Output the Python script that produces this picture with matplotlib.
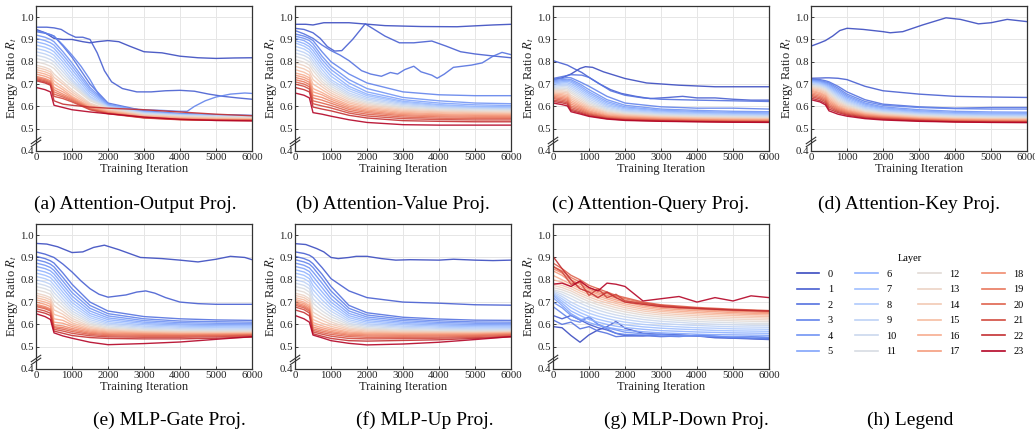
import matplotlib
matplotlib.use("Agg")
import matplotlib.pyplot as plt
from matplotlib.lines import Line2D

plt.rcParams["font.family"] = ["Liberation Serif", "DejaVu Serif"]
plt.rcParams["mathtext.fontset"] = "stix"

# --- Data: energy ratio per layer ---
# common x grid for the smooth curves
x_grid = [0, 250, 400, 500, 750, 1000, 1500, 2000, 3000, 4000, 5000, 6000]
x_grid_down = [0, 250, 500, 750, 1000, 1250, 1500, 1750, 2000, 2500, 3000, 3500, 4000, 4500, 5000, 5500, 6000]
x_ticks = [0, 1000, 2000, 3000, 4000, 5000, 6000]
y_ticks = [0.4, 0.5, 0.6, 0.7, 0.8, 0.9, 1.0]
layers = list(range(24))

# (a) Attention-Output Proj.
att_out = [
    None, None,
    [0.935, 0.928, 0.922, 0.915, 0.87, 0.82, 0.70, 0.615, 0.580, 0.568, 0.563, 0.560],
    None,
    [0.92, 0.91, 0.90, 0.89, 0.845, 0.795, 0.685, 0.610, 0.578, 0.566, 0.561, 0.558],
    [0.905, 0.895, 0.885, 0.875, 0.83, 0.78, 0.675, 0.607, 0.576, 0.565, 0.560, 0.557],
    [0.89, 0.88, 0.87, 0.86, 0.815, 0.765, 0.665, 0.605, 0.575, 0.564, 0.559, 0.556],
    [0.875, 0.865, 0.855, 0.845, 0.80, 0.75, 0.655, 0.602, 0.573, 0.563, 0.558, 0.555],
    [0.86, 0.85, 0.84, 0.83, 0.785, 0.735, 0.645, 0.600, 0.572, 0.562, 0.557, 0.554],
    [0.845, 0.835, 0.825, 0.815, 0.77, 0.72, 0.64, 0.598, 0.570, 0.560, 0.556, 0.553],
    [0.83, 0.82, 0.81, 0.80, 0.755, 0.71, 0.635, 0.596, 0.568, 0.559, 0.555, 0.552],
    [0.815, 0.805, 0.795, 0.785, 0.74, 0.70, 0.63, 0.594, 0.566, 0.557, 0.553, 0.551],
    [0.80, 0.79, 0.78, 0.77, 0.725, 0.69, 0.625, 0.591, 0.564, 0.555, 0.551, 0.549],
    [0.785, 0.775, 0.765, 0.745, 0.71, 0.675, 0.615, 0.587, 0.561, 0.553, 0.549, 0.547],
    [0.775, 0.765, 0.755, 0.73, 0.70, 0.665, 0.61, 0.584, 0.559, 0.551, 0.547, 0.545],
    [0.765, 0.755, 0.745, 0.715, 0.685, 0.655, 0.605, 0.581, 0.557, 0.549, 0.545, 0.543],
    [0.755, 0.745, 0.735, 0.70, 0.675, 0.645, 0.60, 0.578, 0.555, 0.547, 0.543, 0.541],
    [0.745, 0.735, 0.725, 0.685, 0.665, 0.64, 0.595, 0.575, 0.553, 0.545, 0.541, 0.540],
    [0.735, 0.725, 0.715, 0.675, 0.655, 0.635, 0.592, 0.573, 0.551, 0.543, 0.540, 0.539],
    [0.73, 0.72, 0.71, 0.665, 0.648, 0.63, 0.59, 0.571, 0.550, 0.542, 0.539, 0.538],
    [0.725, 0.715, 0.705, 0.655, 0.642, 0.625, 0.587, 0.569, 0.549, 0.541, 0.538, 0.537],
    [0.72, 0.71, 0.70, 0.645, 0.635, 0.62, 0.585, 0.567, 0.548, 0.540, 0.537, 0.536],
    [0.715, 0.705, 0.695, 0.625, 0.61, 0.605, 0.597, 0.592, 0.585, 0.575, 0.565, 0.558],
    [0.685, 0.675, 0.665, 0.605, 0.595, 0.585, 0.575, 0.567, 0.552, 0.542, 0.537, 0.535],
]
att_out_special = {
    0: ([0, 250, 500, 750, 1000, 1300, 1500, 1700, 2000, 2300, 2600, 3000, 3500, 4000, 4500, 5000, 5500, 6000],
        [0.945, 0.93, 0.905, 0.9, 0.9, 0.89, 0.885, 0.89, 0.895, 0.89, 0.87, 0.845, 0.84, 0.825, 0.818, 0.815, 0.817, 0.818]),
    1: ([0, 300, 500, 700, 900, 1100, 1300, 1500, 1700, 1900, 2100, 2400, 2800, 3200, 3600, 4000, 4400, 4800, 5200, 5600, 6000],
        [0.955, 0.955, 0.952, 0.945, 0.925, 0.91, 0.91, 0.9, 0.84, 0.76, 0.71, 0.68, 0.665, 0.665, 0.67, 0.672, 0.668, 0.655, 0.645, 0.638, 0.632]),
    3: ([0, 250, 500, 750, 1000, 1250, 1500, 1750, 2000, 2500, 3000, 3500, 4000, 4200, 4400, 4700, 5000, 5400, 5800, 6000],
        [0.94, 0.93, 0.915, 0.875, 0.83, 0.78, 0.72, 0.65, 0.605, 0.59, 0.585, 0.582, 0.578, 0.578, 0.6, 0.625, 0.642, 0.655, 0.66, 0.658]),
}

# (b) Attention-Value Proj.
att_val = [
    None, None, None,
    [0.925, 0.915, 0.905, 0.895, 0.845, 0.80, 0.745, 0.705, 0.665, 0.652, 0.648, 0.648],
    [0.915, 0.905, 0.895, 0.88, 0.825, 0.78, 0.72, 0.68, 0.64, 0.625, 0.615, 0.612],
    [0.905, 0.895, 0.88, 0.865, 0.81, 0.765, 0.705, 0.665, 0.63, 0.615, 0.607, 0.604],
    [0.895, 0.882, 0.868, 0.85, 0.795, 0.75, 0.69, 0.655, 0.623, 0.608, 0.600, 0.598],
    [0.885, 0.87, 0.855, 0.835, 0.78, 0.735, 0.68, 0.648, 0.618, 0.604, 0.597, 0.595],
    [0.87, 0.857, 0.842, 0.82, 0.765, 0.72, 0.67, 0.64, 0.613, 0.600, 0.594, 0.592],
    [0.855, 0.842, 0.828, 0.805, 0.75, 0.71, 0.66, 0.633, 0.608, 0.596, 0.591, 0.589],
    [0.84, 0.828, 0.815, 0.79, 0.738, 0.70, 0.652, 0.627, 0.603, 0.592, 0.588, 0.586],
    [0.825, 0.813, 0.80, 0.775, 0.725, 0.69, 0.645, 0.62, 0.598, 0.588, 0.584, 0.583],
    [0.81, 0.798, 0.785, 0.76, 0.712, 0.68, 0.637, 0.614, 0.593, 0.584, 0.58, 0.579],
    [0.795, 0.783, 0.77, 0.74, 0.70, 0.67, 0.63, 0.608, 0.588, 0.58, 0.576, 0.575],
    [0.78, 0.768, 0.755, 0.72, 0.688, 0.66, 0.622, 0.602, 0.583, 0.576, 0.572, 0.571],
    [0.765, 0.753, 0.74, 0.70, 0.675, 0.65, 0.615, 0.596, 0.578, 0.572, 0.568, 0.567],
    [0.75, 0.74, 0.728, 0.68, 0.662, 0.64, 0.607, 0.590, 0.573, 0.567, 0.564, 0.563],
    [0.74, 0.73, 0.718, 0.665, 0.652, 0.632, 0.60, 0.584, 0.568, 0.563, 0.560, 0.559],
    [0.73, 0.72, 0.708, 0.65, 0.64, 0.623, 0.593, 0.578, 0.563, 0.558, 0.556, 0.555],
    [0.72, 0.71, 0.698, 0.638, 0.628, 0.614, 0.586, 0.572, 0.558, 0.553, 0.551, 0.55],
    [0.71, 0.70, 0.688, 0.625, 0.615, 0.604, 0.578, 0.565, 0.552, 0.547, 0.545, 0.545],
    [0.70, 0.69, 0.678, 0.612, 0.602, 0.593, 0.570, 0.557, 0.545, 0.541, 0.539, 0.539],
    [0.685, 0.675, 0.665, 0.597, 0.588, 0.58, 0.56, 0.548, 0.536, 0.533, 0.531, 0.531],
    [0.66, 0.65, 0.638, 0.572, 0.565, 0.556, 0.54, 0.528, 0.518, 0.516, 0.516, 0.516],
]
att_val_special = {
    0: ([0, 300, 500, 800, 1500, 2500, 3500, 4500, 5500, 6000],
        [0.968, 0.968, 0.965, 0.975, 0.975, 0.962, 0.958, 0.957, 0.965, 0.968]),
    1: ([0, 250, 500, 700, 900, 1100, 1300, 1600, 1950, 2200, 2500, 2900, 3300, 3800, 4200, 4600, 5000, 5500, 6000],
        [0.95, 0.945, 0.93, 0.905, 0.868, 0.848, 0.85, 0.9, 0.97, 0.945, 0.915, 0.885, 0.885, 0.893, 0.87, 0.845, 0.835, 0.826, 0.818]),
    2: ([0, 250, 500, 750, 1000, 1250, 1500, 1850, 2100, 2400, 2650, 2850, 3050, 3300, 3500, 3800, 3950, 4150, 4400, 4900, 5200, 5500, 5750, 6000],
        [0.94, 0.925, 0.905, 0.875, 0.85, 0.83, 0.805, 0.76, 0.745, 0.735, 0.752, 0.745, 0.765, 0.78, 0.755, 0.74, 0.726, 0.745, 0.775, 0.785, 0.795, 0.825, 0.842, 0.832]),
}

# (c) Attention-Query Proj.
att_query = [
    None, None, None,
    [0.72, 0.725, 0.73, 0.728, 0.71, 0.69, 0.645, 0.615, 0.598, 0.592, 0.592, 0.588],
    [0.715, 0.72, 0.722, 0.72, 0.70, 0.675, 0.63, 0.605, 0.588, 0.582, 0.578, 0.576],
    [0.71, 0.715, 0.717, 0.714, 0.692, 0.665, 0.622, 0.598, 0.583, 0.577, 0.573, 0.571],
    [0.705, 0.71, 0.712, 0.708, 0.684, 0.657, 0.615, 0.593, 0.579, 0.573, 0.569, 0.567],
    [0.70, 0.705, 0.706, 0.70, 0.676, 0.649, 0.608, 0.588, 0.575, 0.569, 0.566, 0.564],
    [0.695, 0.70, 0.70, 0.692, 0.668, 0.641, 0.602, 0.583, 0.571, 0.566, 0.563, 0.561],
    [0.69, 0.694, 0.694, 0.684, 0.66, 0.633, 0.596, 0.579, 0.567, 0.562, 0.56, 0.558],
    [0.685, 0.688, 0.687, 0.676, 0.652, 0.625, 0.59, 0.575, 0.564, 0.559, 0.557, 0.555],
    [0.68, 0.682, 0.68, 0.668, 0.644, 0.618, 0.585, 0.571, 0.561, 0.556, 0.554, 0.552],
    [0.675, 0.676, 0.673, 0.66, 0.636, 0.611, 0.58, 0.567, 0.558, 0.553, 0.551, 0.549],
    [0.67, 0.67, 0.666, 0.65, 0.628, 0.604, 0.575, 0.564, 0.555, 0.55, 0.548, 0.546],
    [0.665, 0.664, 0.66, 0.642, 0.62, 0.598, 0.571, 0.561, 0.552, 0.548, 0.546, 0.544],
    [0.66, 0.658, 0.653, 0.634, 0.613, 0.592, 0.567, 0.558, 0.55, 0.546, 0.544, 0.542],
    [0.655, 0.652, 0.646, 0.626, 0.606, 0.586, 0.563, 0.555, 0.547, 0.543, 0.541, 0.54],
    [0.65, 0.646, 0.64, 0.618, 0.60, 0.58, 0.559, 0.552, 0.545, 0.541, 0.539, 0.538],
    [0.645, 0.64, 0.634, 0.61, 0.594, 0.575, 0.556, 0.549, 0.542, 0.539, 0.537, 0.536],
    [0.64, 0.634, 0.628, 0.602, 0.588, 0.57, 0.553, 0.546, 0.54, 0.537, 0.535, 0.534],
    [0.635, 0.628, 0.622, 0.595, 0.582, 0.566, 0.55, 0.543, 0.538, 0.535, 0.533, 0.532],
    [0.628, 0.622, 0.616, 0.588, 0.576, 0.562, 0.547, 0.541, 0.536, 0.533, 0.531, 0.531],
    [0.622, 0.616, 0.61, 0.582, 0.571, 0.558, 0.545, 0.539, 0.534, 0.532, 0.53, 0.53],
    [0.615, 0.608, 0.602, 0.576, 0.566, 0.555, 0.543, 0.537, 0.533, 0.531, 0.529, 0.528],
]
att_query_special = {
    0: ([0, 250, 500, 750, 900, 1100, 1400, 1700, 2000, 2600, 3500, 4500, 5500, 6000],
        [0.72, 0.728, 0.745, 0.77, 0.778, 0.775, 0.755, 0.74, 0.725, 0.705, 0.695, 0.688, 0.688, 0.688]),
    1: ([0, 200, 400, 600, 800, 1000, 1300, 1600, 1900, 2300, 2700, 3200, 3600, 4000, 4500, 5000, 5500, 6000],
        [0.805, 0.795, 0.785, 0.768, 0.752, 0.73, 0.7, 0.675, 0.658, 0.645, 0.635, 0.64, 0.645, 0.638, 0.638, 0.632, 0.628, 0.628]),
    2: ([0, 300, 500, 800, 1000, 1300, 1600, 2000, 2500, 3000, 4000, 5000, 6000],
        [0.725, 0.735, 0.742, 0.74, 0.73, 0.7, 0.67, 0.65, 0.638, 0.632, 0.628, 0.625, 0.622]),
}

# (d) Attention-Key Proj.
att_key = [
    None,
    [0.726, 0.727, 0.728, 0.728, 0.726, 0.72, 0.69, 0.67, 0.655, 0.645, 0.642, 0.64],
    [0.722, 0.72, 0.715, 0.71, 0.69, 0.665, 0.63, 0.61, 0.598, 0.592, 0.595, 0.595],
    [0.72, 0.716, 0.71, 0.705, 0.682, 0.655, 0.622, 0.605, 0.595, 0.59, 0.588, 0.588],
    [0.718, 0.713, 0.706, 0.70, 0.675, 0.648, 0.615, 0.598, 0.585, 0.578, 0.575, 0.574],
    [0.715, 0.71, 0.702, 0.695, 0.668, 0.642, 0.61, 0.593, 0.58, 0.573, 0.57, 0.569],
    [0.712, 0.706, 0.698, 0.69, 0.662, 0.636, 0.605, 0.589, 0.576, 0.569, 0.566, 0.565],
    [0.709, 0.703, 0.694, 0.685, 0.656, 0.63, 0.60, 0.585, 0.572, 0.566, 0.563, 0.562],
    [0.706, 0.699, 0.69, 0.68, 0.65, 0.625, 0.595, 0.581, 0.569, 0.563, 0.56, 0.559],
    [0.703, 0.695, 0.686, 0.675, 0.644, 0.62, 0.591, 0.578, 0.566, 0.56, 0.557, 0.556],
    [0.70, 0.691, 0.682, 0.67, 0.638, 0.615, 0.587, 0.575, 0.563, 0.557, 0.554, 0.553],
    [0.696, 0.687, 0.677, 0.664, 0.632, 0.61, 0.583, 0.572, 0.56, 0.554, 0.551, 0.55],
    [0.692, 0.683, 0.672, 0.658, 0.626, 0.605, 0.579, 0.569, 0.557, 0.551, 0.548, 0.547],
    [0.688, 0.678, 0.667, 0.652, 0.62, 0.60, 0.575, 0.566, 0.554, 0.548, 0.546, 0.545],
    [0.683, 0.673, 0.662, 0.645, 0.614, 0.595, 0.572, 0.563, 0.552, 0.546, 0.544, 0.543],
    [0.678, 0.668, 0.656, 0.638, 0.608, 0.59, 0.569, 0.56, 0.549, 0.544, 0.542, 0.541],
    [0.673, 0.662, 0.65, 0.631, 0.602, 0.585, 0.566, 0.557, 0.547, 0.542, 0.54, 0.539],
    [0.668, 0.657, 0.645, 0.624, 0.597, 0.581, 0.563, 0.555, 0.545, 0.54, 0.538, 0.537],
    [0.662, 0.651, 0.639, 0.617, 0.592, 0.577, 0.56, 0.552, 0.543, 0.538, 0.536, 0.535],
    [0.656, 0.645, 0.633, 0.61, 0.587, 0.573, 0.557, 0.55, 0.541, 0.536, 0.534, 0.533],
    [0.65, 0.639, 0.627, 0.603, 0.582, 0.569, 0.554, 0.547, 0.539, 0.534, 0.532, 0.531],
    [0.644, 0.633, 0.621, 0.596, 0.577, 0.565, 0.551, 0.545, 0.537, 0.532, 0.53, 0.53],
    [0.637, 0.626, 0.614, 0.588, 0.572, 0.561, 0.548, 0.542, 0.535, 0.531, 0.529, 0.529],
    [0.63, 0.62, 0.607, 0.58, 0.565, 0.556, 0.545, 0.539, 0.533, 0.53, 0.528, 0.527],
]
att_key_special = {
    0: ([0, 250, 400, 600, 800, 1000, 1450, 2000, 2200, 2550, 3100, 3750, 4150, 4650, 5000, 5450, 6000],
        [0.87, 0.885, 0.895, 0.915, 0.94, 0.95, 0.945, 0.935, 0.93, 0.935, 0.965, 0.997, 0.99, 0.97, 0.975, 0.99, 0.98]),
}

# (e) MLP-Gate Proj.
mlp_gate = [
    None, None,
    [0.905, 0.895, 0.885, 0.875, 0.83, 0.78, 0.70, 0.66, 0.635, 0.625, 0.62, 0.618],
    [0.89, 0.88, 0.87, 0.858, 0.81, 0.76, 0.685, 0.648, 0.625, 0.615, 0.612, 0.61],
    [0.875, 0.865, 0.855, 0.842, 0.793, 0.743, 0.672, 0.638, 0.617, 0.608, 0.605, 0.603],
    [0.86, 0.85, 0.84, 0.826, 0.776, 0.727, 0.66, 0.629, 0.61, 0.602, 0.599, 0.598],
    [0.845, 0.835, 0.825, 0.81, 0.76, 0.712, 0.649, 0.621, 0.604, 0.597, 0.594, 0.593],
    [0.83, 0.82, 0.81, 0.793, 0.744, 0.698, 0.639, 0.613, 0.598, 0.592, 0.589, 0.588],
    [0.815, 0.805, 0.795, 0.776, 0.729, 0.685, 0.63, 0.606, 0.592, 0.587, 0.585, 0.584],
    [0.80, 0.79, 0.78, 0.76, 0.714, 0.672, 0.621, 0.60, 0.587, 0.582, 0.58, 0.58],
    [0.785, 0.775, 0.765, 0.742, 0.70, 0.66, 0.613, 0.594, 0.582, 0.578, 0.576, 0.576],
    [0.77, 0.76, 0.75, 0.725, 0.686, 0.649, 0.606, 0.588, 0.578, 0.574, 0.572, 0.572],
    [0.755, 0.745, 0.735, 0.705, 0.672, 0.638, 0.599, 0.583, 0.574, 0.57, 0.569, 0.569],
    [0.74, 0.73, 0.72, 0.685, 0.658, 0.627, 0.592, 0.578, 0.57, 0.567, 0.566, 0.566],
    [0.73, 0.72, 0.71, 0.665, 0.645, 0.617, 0.586, 0.574, 0.567, 0.564, 0.563, 0.563],
    [0.72, 0.71, 0.70, 0.645, 0.632, 0.607, 0.58, 0.57, 0.564, 0.561, 0.56, 0.561],
    [0.71, 0.70, 0.69, 0.625, 0.618, 0.598, 0.575, 0.566, 0.561, 0.558, 0.558, 0.559],
    [0.70, 0.69, 0.68, 0.61, 0.605, 0.59, 0.57, 0.562, 0.558, 0.556, 0.556, 0.557],
    [0.69, 0.68, 0.67, 0.598, 0.593, 0.582, 0.565, 0.558, 0.555, 0.553, 0.554, 0.555],
    [0.685, 0.675, 0.665, 0.59, 0.585, 0.575, 0.56, 0.554, 0.551, 0.55, 0.551, 0.553],
    [0.68, 0.67, 0.66, 0.585, 0.578, 0.568, 0.555, 0.549, 0.547, 0.547, 0.548, 0.551],
    [0.67, 0.66, 0.65, 0.578, 0.57, 0.56, 0.549, 0.544, 0.542, 0.542, 0.544, 0.548],
    [0.66, 0.65, 0.64, 0.57, 0.56, 0.55, 0.541, 0.537, 0.535, 0.535, 0.538, 0.543],
    [0.648, 0.635, 0.622, 0.562, 0.548, 0.538, 0.52, 0.509, 0.514, 0.521, 0.533, 0.545],
]
mlp_gate_special = {
    0: ([0, 300, 600, 800, 1000, 1300, 1600, 1900, 2300, 2900, 3500, 4000, 4500, 5000, 5400, 5800, 6000],
        [0.963, 0.96, 0.948, 0.935, 0.922, 0.925, 0.945, 0.955, 0.935, 0.9, 0.895, 0.888, 0.88, 0.892, 0.905, 0.9, 0.89]),
    1: ([0, 250, 500, 750, 1000, 1250, 1500, 1750, 2000, 2500, 2800, 3050, 3300, 3600, 4000, 4500, 5000, 6000],
        [0.925, 0.915, 0.9, 0.87, 0.835, 0.795, 0.76, 0.735, 0.722, 0.732, 0.745, 0.75, 0.74, 0.72, 0.7, 0.693, 0.69, 0.69]),
}

# (f) MLP-Up Proj.
mlp_up = [
    None,
    [0.925, 0.918, 0.91, 0.90, 0.855, 0.805, 0.75, 0.72, 0.70, 0.695, 0.688, 0.686],
    [0.905, 0.895, 0.885, 0.872, 0.825, 0.77, 0.685, 0.652, 0.632, 0.624, 0.619, 0.618],
    [0.89, 0.88, 0.87, 0.855, 0.805, 0.75, 0.672, 0.642, 0.624, 0.616, 0.611, 0.61],
    [0.875, 0.865, 0.853, 0.835, 0.785, 0.732, 0.66, 0.633, 0.617, 0.609, 0.605, 0.603],
    [0.86, 0.85, 0.837, 0.815, 0.765, 0.715, 0.649, 0.625, 0.61, 0.603, 0.599, 0.598],
    [0.845, 0.835, 0.821, 0.795, 0.746, 0.70, 0.639, 0.617, 0.604, 0.597, 0.594, 0.593],
    [0.83, 0.82, 0.805, 0.775, 0.728, 0.686, 0.63, 0.61, 0.598, 0.592, 0.589, 0.588],
    [0.815, 0.805, 0.79, 0.755, 0.71, 0.672, 0.621, 0.603, 0.592, 0.587, 0.584, 0.584],
    [0.80, 0.79, 0.775, 0.735, 0.693, 0.659, 0.613, 0.597, 0.587, 0.582, 0.58, 0.58],
    [0.785, 0.775, 0.76, 0.715, 0.677, 0.646, 0.605, 0.591, 0.582, 0.578, 0.576, 0.576],
    [0.77, 0.76, 0.745, 0.695, 0.661, 0.634, 0.598, 0.585, 0.577, 0.574, 0.572, 0.573],
    [0.755, 0.745, 0.73, 0.675, 0.646, 0.622, 0.591, 0.58, 0.573, 0.57, 0.569, 0.57],
    [0.74, 0.73, 0.715, 0.655, 0.631, 0.611, 0.584, 0.575, 0.569, 0.567, 0.566, 0.567],
    [0.73, 0.72, 0.705, 0.638, 0.618, 0.601, 0.578, 0.57, 0.565, 0.564, 0.563, 0.565],
    [0.72, 0.71, 0.695, 0.622, 0.605, 0.591, 0.572, 0.565, 0.562, 0.561, 0.561, 0.563],
    [0.712, 0.70, 0.685, 0.608, 0.594, 0.582, 0.566, 0.561, 0.558, 0.558, 0.558, 0.561],
    [0.705, 0.693, 0.678, 0.597, 0.585, 0.575, 0.561, 0.557, 0.555, 0.555, 0.556, 0.559],
    [0.698, 0.686, 0.671, 0.588, 0.577, 0.568, 0.556, 0.553, 0.551, 0.552, 0.553, 0.557],
    [0.692, 0.68, 0.665, 0.58, 0.57, 0.562, 0.551, 0.548, 0.547, 0.548, 0.55, 0.554],
    [0.686, 0.674, 0.659, 0.573, 0.563, 0.555, 0.545, 0.542, 0.542, 0.543, 0.546, 0.551],
    [0.678, 0.666, 0.651, 0.566, 0.556, 0.547, 0.537, 0.535, 0.536, 0.538, 0.541, 0.547],
    [0.665, 0.653, 0.638, 0.558, 0.547, 0.537, 0.527, 0.525, 0.528, 0.531, 0.537, 0.544],
    [0.64, 0.625, 0.61, 0.552, 0.54, 0.527, 0.515, 0.508, 0.512, 0.52, 0.532, 0.545],
]
mlp_up_special = {
    0: ([0, 300, 600, 800, 1000, 1200, 1500, 1700, 2000, 2400, 2800, 3200, 4000, 4400, 5000, 5500, 6000],
        [0.962, 0.958, 0.94, 0.925, 0.9, 0.895, 0.9, 0.905, 0.905, 0.895, 0.888, 0.89, 0.888, 0.892, 0.888, 0.886, 0.888]),
}

# (g) MLP-Down Proj. (on x_grid_down)
mlp_down = [
    [0.59, 0.585, 0.55, 0.52, 0.553, 0.575, 0.59, 0.613, 0.583, 0.56, 0.555, 0.552, 0.548, 0.545, 0.54, 0.537, 0.535],
    [0.64, 0.625, 0.64, 0.62, 0.60, 0.585, 0.575, 0.56, 0.55, 0.548, 0.556, 0.552, 0.548, 0.54, 0.538, 0.535, 0.532],
    [0.62, 0.60, 0.61, 0.58, 0.59, 0.57, 0.56, 0.545, 0.548, 0.55, 0.545, 0.548, 0.55, 0.542, 0.54, 0.545, 0.54],
    [0.68, 0.65, 0.62, 0.61, 0.635, 0.60, 0.58, 0.56, 0.555, 0.552, 0.548, 0.545, 0.552, 0.548, 0.54, 0.538, 0.535],
    [0.70, 0.675, 0.64, 0.62, 0.63, 0.60, 0.585, 0.575, 0.565, 0.558, 0.554, 0.55, 0.548, 0.546, 0.545, 0.544, 0.543],
    [0.72, 0.685, 0.648, 0.625, 0.608, 0.596, 0.587, 0.58, 0.574, 0.567, 0.562, 0.559, 0.556, 0.554, 0.553, 0.552, 0.551],
    [0.73, 0.695, 0.66, 0.64, 0.622, 0.61, 0.60, 0.592, 0.586, 0.578, 0.572, 0.569, 0.566, 0.564, 0.562, 0.561, 0.56],
    [0.735, 0.705, 0.675, 0.653, 0.636, 0.623, 0.613, 0.605, 0.598, 0.589, 0.583, 0.579, 0.576, 0.573, 0.571, 0.57, 0.569],
    [0.74, 0.715, 0.688, 0.667, 0.65, 0.637, 0.626, 0.617, 0.61, 0.60, 0.593, 0.589, 0.585, 0.583, 0.58, 0.579, 0.578],
    [0.745, 0.725, 0.70, 0.68, 0.664, 0.65, 0.639, 0.63, 0.622, 0.611, 0.604, 0.599, 0.595, 0.592, 0.589, 0.588, 0.587],
    [0.75, 0.735, 0.715, 0.695, 0.678, 0.664, 0.652, 0.642, 0.634, 0.622, 0.614, 0.609, 0.604, 0.601, 0.598, 0.596, 0.595],
    [0.755, 0.745, 0.728, 0.708, 0.69, 0.676, 0.664, 0.654, 0.645, 0.632, 0.624, 0.618, 0.613, 0.61, 0.607, 0.605, 0.604],
    [0.765, 0.755, 0.74, 0.72, 0.702, 0.688, 0.676, 0.665, 0.656, 0.642, 0.633, 0.627, 0.622, 0.619, 0.616, 0.614, 0.612],
    [0.775, 0.765, 0.75, 0.73, 0.713, 0.698, 0.686, 0.675, 0.666, 0.651, 0.642, 0.636, 0.631, 0.627, 0.624, 0.622, 0.62],
    [0.785, 0.775, 0.76, 0.74, 0.723, 0.708, 0.696, 0.685, 0.675, 0.66, 0.65, 0.644, 0.639, 0.635, 0.632, 0.63, 0.628],
    [0.80, 0.79, 0.77, 0.75, 0.733, 0.718, 0.705, 0.694, 0.684, 0.668, 0.658, 0.652, 0.647, 0.643, 0.64, 0.637, 0.635],
    [0.82, 0.80, 0.78, 0.76, 0.742, 0.727, 0.714, 0.702, 0.692, 0.676, 0.665, 0.659, 0.654, 0.65, 0.647, 0.644, 0.642],
    [0.84, 0.82, 0.79, 0.77, 0.75, 0.735, 0.722, 0.71, 0.70, 0.683, 0.672, 0.666, 0.661, 0.657, 0.653, 0.65, 0.648],
    [0.85, 0.83, 0.80, 0.78, 0.758, 0.742, 0.73, 0.718, 0.708, 0.69, 0.678, 0.672, 0.667, 0.663, 0.659, 0.656, 0.653],
    [0.86, 0.84, 0.81, 0.79, 0.765, 0.75, 0.738, 0.725, 0.715, 0.697, 0.685, 0.678, 0.672, 0.668, 0.664, 0.661, 0.658],
    [0.875, 0.85, 0.82, 0.80, 0.775, 0.76, 0.745, 0.73, 0.72, 0.70, 0.688, 0.682, 0.676, 0.672, 0.668, 0.665, 0.662],
    [0.86, 0.835, 0.78, 0.79, 0.73, 0.76, 0.72, 0.735, 0.705, 0.695, 0.685, 0.678, 0.672, 0.668, 0.664, 0.662, 0.66],
    [0.905, 0.85, 0.80, 0.76, 0.745, 0.72, 0.745, 0.72, 0.70, 0.69, 0.68, 0.675, 0.672, 0.668, 0.665, 0.662, 0.66],
    [0.78, 0.785, 0.77, 0.795, 0.765, 0.75, 0.785, 0.78, 0.77, 0.705, 0.715, 0.725, 0.70, 0.72, 0.705, 0.728, 0.72],
]

panels = [
    ("(a) Attention-Output Proj.", att_out, att_out_special, x_grid),
    ("(b) Attention-Value Proj.", att_val, att_val_special, x_grid),
    ("(c) Attention-Query Proj.", att_query, att_query_special, x_grid),
    ("(d) Attention-Key Proj.", att_key, att_key_special, x_grid),
    ("(e) MLP-Gate Proj.", mlp_gate, mlp_gate_special, x_grid),
    ("(f) MLP-Up Proj.", mlp_up, mlp_up_special, x_grid),
    ("(g) MLP-Down Proj.", mlp_down, {}, x_grid_down),
]

W, H = 1035, 432
col_left = [36, 295, 553, 811]
row_top = [6, 224]
ax_w, ax_h = 216, 145
caption_x = [135, 393, 651, 909, 169, 425, 686, 910]
caption_y = [204, 420]

cmap = plt.cm.coolwarm
colors = [cmap(i / 23) for i in layers]

fig = plt.figure(figsize=(W / 100, H / 100), dpi=100)

for k, (title, rows, special, xs) in enumerate(panels):
    r, c = divmod(k, 4)
    ax = fig.add_axes([col_left[c] / W, 1 - (row_top[r] + ax_h) / H, ax_w / W, ax_h / H])
    for i in layers:
        if i in special:
            px, py = special[i]
        else:
            px, py = xs, rows[i]
        ax.plot(px, py, color=colors[i], lw=1.0, alpha=0.9)
    ax.set_xlim(0, 6000)
    ax.set_ylim(0.4, 1.05)
    ax.set_xticks(x_ticks)
    ax.set_yticks(y_ticks)
    ax.set_yticklabels([f"{v:.1f}" for v in y_ticks])
    ax.tick_params(direction="in", length=2.5, width=0.6, labelsize=7.8, pad=1.5, colors="#222222")
    ax.grid(True, color="#e6e6e6", lw=0.7)
    ax.set_axisbelow(True)
    for s in ax.spines.values():
        s.set_color("#333333")
        s.set_linewidth(0.9)
    ax.set_xlabel("Training Iteration", fontsize=9, labelpad=1, color="#222222")
    ax.set_ylabel("Energy Ratio $R_t$", fontsize=9, labelpad=0, color="#222222")
    # broken-axis marks on the left spine
    for dy in (0.0, 0.02):
        ax.plot([-0.022, 0.022], [0.03 + dy, 0.075 + dy], transform=ax.transAxes,
                color="#333333", lw=0.8, clip_on=False)
    fig.text(caption_x[k] / W, 1 - caption_y[r] / H, title, ha="center", va="center", fontsize=14)

# --- (h) Legend ---
handles = [Line2D([0], [0], color=colors[i], lw=1.2) for i in layers]
fig.legend(handles, [str(i) for i in layers], title="Layer", ncol=4, frameon=False,
           loc="upper center", bbox_to_anchor=(910 / W, 1 - 249 / H),
           fontsize=7.5, title_fontsize=7.5, handlelength=2.2, handletextpad=0.8,
           columnspacing=2.1, labelspacing=0.6, borderpad=0)
fig.text(caption_x[7] / W, 1 - caption_y[1] / H, "(h) Legend", ha="center", va="center", fontsize=14)

fig.savefig("out.png", dpi=100)
